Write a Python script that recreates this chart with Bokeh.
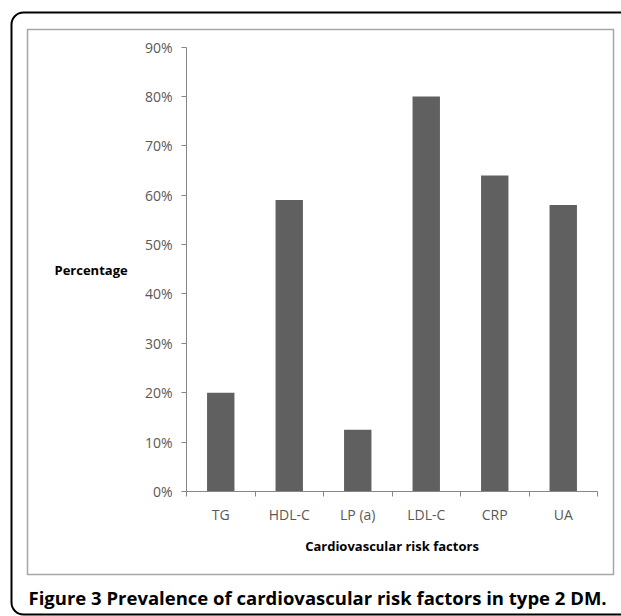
from bokeh.plotting import figure
from bokeh.models import (Range1d, FixedTicker, NumeralTickFormatter, Label,
                          BoxAnnotation, ColumnDataSource)
from bokeh.embed import file_html
from bokeh.resources import INLINE

categories = ["TG", "HDL-C", "LP (a)", "LDL-C", "CRP", "UA"]
values = [0.20, 0.59, 0.125, 0.80, 0.64, 0.58]
y_ticks = [0.0, 0.1, 0.2, 0.3, 0.4, 0.5, 0.6, 0.7, 0.8, 0.9]
x_title = "Cardiovascular risk factors"
y_title = "Percentage"
caption = "Figure 3 Prevalence of cardiovascular risk factors in type 2 DM."

centers = [i + 0.5 for i in range(len(categories))]
bounds = list(range(len(categories) + 1))

W, H = 621, 616
# pixel positions of the axes box (x: 0..n categories, y: 0..90%)
AL, AT, AR, AB = 186, 46.5, 597, 491
XMAX, YMAX = len(categories), 0.9
sx = (AR - AL) / XMAX
sy = (AB - AT) / YMAX


def dx(px):
    return (px - AL) / sx


def dy(py):
    return (AB - py) / sy


p = figure(width=W, height=H, output_backend="svg", toolbar_location=None,
           x_range=Range1d(dx(0), dx(W)), y_range=Range1d(dy(H), dy(0)),
           min_border=0)
p.outline_line_color = None
p.xgrid.visible = False
p.ygrid.visible = False
p.background_fill_color = "white"
p.border_fill_color = "white"

outer = BoxAnnotation(left=dx(11), right=dx(660), top=dy(12), bottom=dy(614),
                      fill_alpha=0, line_color="black", line_alpha=1,
                      line_width=2, border_radius=12, level="underlay")
inner = BoxAnnotation(left=dx(27), right=dx(613), top=dy(29), bottom=dy(574),
                      fill_alpha=0, line_color="#a6a6a6", line_alpha=1,
                      line_width=1.5, level="underlay")
p.add_layout(outer)
p.add_layout(inner)

src = ColumnDataSource(dict(x=centers, top=values, cat=categories))
p.vbar(x="x", top="top", bottom=0, width=0.4, source=src,
       fill_color="#606060", line_color=None)

axis_color = "#868686"
tick_font = "Open Sans"

ya = p.yaxis[0]
ya.fixed_location = 0
ya.bounds = (0, YMAX)
ya.ticker = FixedTicker(ticks=y_ticks, minor_ticks=[])
ya.formatter = NumeralTickFormatter(format="0%")
ya.axis_line_color = axis_color
ya.major_tick_line_color = axis_color
ya.major_tick_out = 5
ya.major_tick_in = 0
ya.minor_tick_out = 0
ya.minor_tick_in = 0
ya.major_label_standoff = 9
ya.major_label_text_font = tick_font
ya.major_label_text_font_size = "14px"
ya.major_label_text_color = "#595959"

xa = p.xaxis[0]
xa.fixed_location = 0
xa.bounds = (0, XMAX)
xa.ticker = FixedTicker(ticks=centers, minor_ticks=bounds)
xa.major_label_overrides = {c: name for c, name in zip(centers, categories)}
xa.axis_line_color = axis_color
xa.major_tick_out = 0
xa.major_tick_in = 0
xa.minor_tick_out = 5
xa.minor_tick_in = 0
xa.minor_tick_line_color = axis_color
xa.major_label_standoff = 8
xa.major_label_text_font = tick_font
xa.major_label_text_font_size = "14px"
xa.major_label_text_color = "#595959"
xa.axis_label = x_title
xa.axis_label_text_font = tick_font
xa.axis_label_text_font_style = "bold"
xa.axis_label_text_font_size = "13px"
xa.axis_label_text_color = "black"
xa.axis_label_standoff = 10

p.add_layout(Label(x=dx(54), y=dy(269), text=y_title, text_font=tick_font,
                   text_font_style="bold", text_font_size="13px",
                   text_color="black", text_baseline="middle",
                   text_align="left"))
p.add_layout(Label(x=dx(28), y=dy(597), text=caption, text_font="Open Sans",
                   text_font_style="bold", text_font_size="18.5px",
                   text_color="black", text_baseline="middle",
                   text_align="left"))

open("out.html", "w").write(file_html(p, INLINE))
